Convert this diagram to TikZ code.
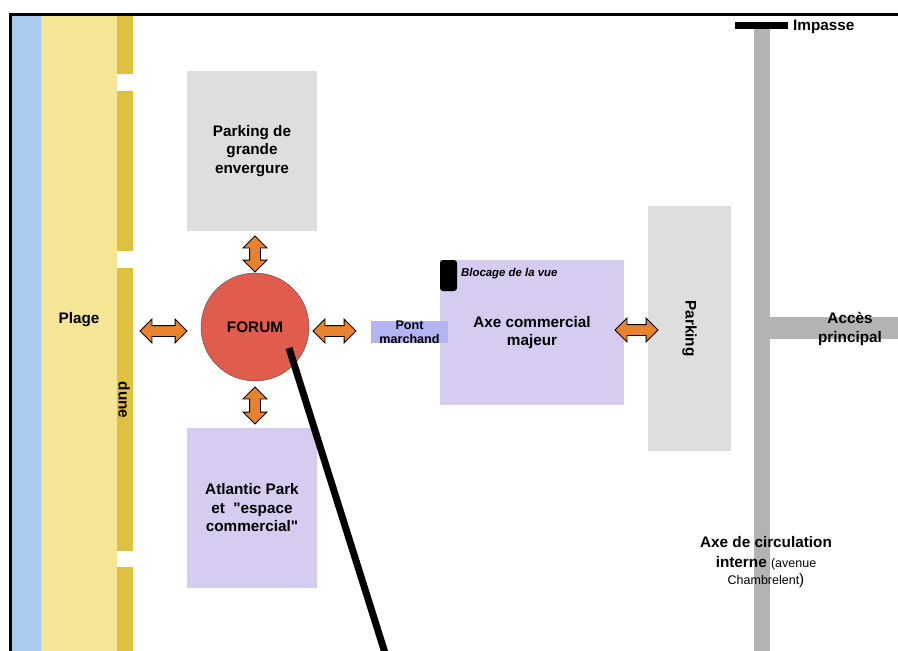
\documentclass[tikz,border=0pt]{standalone}
\usepackage{fontspec}
\setmainfont{Liberation Sans}
\usetikzlibrary{shapes.arrows}
\definecolor{sea}{HTML}{A9CBF0}
\definecolor{sand}{HTML}{F5E696}
\definecolor{dunec}{HTML}{E0C040}
\definecolor{lot}{HTML}{DEDEDE}
\definecolor{shop}{HTML}{D5CCF0}
\definecolor{forumc}{HTML}{E05D4E}
\definecolor{bridge}{HTML}{B3B5F2}
\definecolor{road}{HTML}{B3B3B3}
\definecolor{flow}{HTML}{E8822C}
\newcommand{\aside}[1]{{\mdseries\fontsize{12.5}{17}\selectfont #1}}
\tikzset{
  zone/.style={inner sep=0pt, align=center, font=\bfseries\fontsize{15.3}{18.5}\selectfont},
  box/.style={zone, minimum width=130pt, minimum height=160pt},
  link/.style={double arrow, draw=black, fill=flow, line width=0.8pt, inner xsep=0pt,
    inner ysep=5pt, double arrow head extend=6.5pt},
  lab/.style={font=\bfseries\fontsize{15.3}{18.5}\selectfont, inner sep=0pt, align=center},
  labs/.style={font=\bfseries\fontsize{12.6}{14}\selectfont, inner sep=0pt, align=center},
  pointer/.style={draw=black, line width=7pt},
  frame/.style={draw=black, line width=3pt},
}
\begin{document}
\begin{tikzpicture}[x=1pt,y=-1pt]
  \useasboundingbox (0,0) rectangle (898,651);
  \fill[sea] (11,15) rectangle (41,651);
  \fill[sand] (41,15) rectangle (117,651);
  \foreach \a/\b in {15/74, 91/251, 268/551, 567/651}
    \fill[dunec] (117,\a) rectangle (133,\b);
  \node[lab] (plage) at (79,320) {Plage};
  \node[lab, rotate=-90] (dune) at (124,400) {dune};
  \node[box, fill=lot] (bigpark) at (252,151) {Parking de\\grande\\envergure};
  \node[box, fill=shop] (atlantic) at (252,508) {Atlantic Park\\et \ \textquotedbl espace\\commercial\textquotedbl};
  \node[zone, fill=shop, minimum width=184pt, minimum height=145pt] (axe) at (532,332.5) {Axe commercial\\majeur};
  \node[labs, fill=bridge, minimum width=77pt, minimum height=22pt] (pont) at (409.5,332) {Pont\\marchand};
  \node[fill=black, rounded corners=3pt, minimum width=17pt, minimum height=31pt, inner sep=0pt] (bloc) at (448.5,275.5) {};
  \node[labs, font=\bfseries\itshape\fontsize{11.4}{13}\selectfont, anchor=west] (bloclab) at (461,274) {Blocage de la vue};
  \node[zone, fill=lot, minimum width=83pt, minimum height=245pt] (park) at (689.5,328.5) {};
  \node[lab, rotate=-90] (parklab) at (park.center) {Parking};
  \fill[road] (754,28) rectangle (770,651);
  \fill[road] (770,317) rectangle (898,339);
  \fill[black] (735,22) rectangle (788,29);
  \node[lab, anchor=west] (impasse) at (793,26.5) {Impasse};
  \node[lab] (acces) at (850,329) {Accès\\principal};
  \node[lab, font=\bfseries\fontsize{15.3}{20}\selectfont] (interne) at (766,562)
    {Axe de circulation\\interne \aside{(avenue}\\[-3pt]\aside{Chambrelent}{\mdseries)}};
  \node[circle, draw=black!70, fill=forumc, minimum size=108pt, inner sep=0pt, font=\bfseries\fontsize{15.3}{17}\selectfont] (forum) at (255,327) {FORUM};
  \node[link, minimum height=36pt, rotate=90] (up) at (255,254) {};
  \node[link, minimum height=37pt, rotate=90] (down) at (255,405.5) {};
  \node[link, minimum height=47pt] (left) at (163.5,331) {};
  \node[link, minimum height=43pt] (right) at (334.5,331) {};
  \node[link, minimum height=43pt] (east) at (636.5,330) {};
  \coordinate (tip) at (289,348);
  \coordinate (tail) at (386,656);
  \draw[pointer] (tip) -- (tail);
  \draw[frame] (898,14) -- (10,14) -- (10,651);
\end{tikzpicture}
\end{document}
